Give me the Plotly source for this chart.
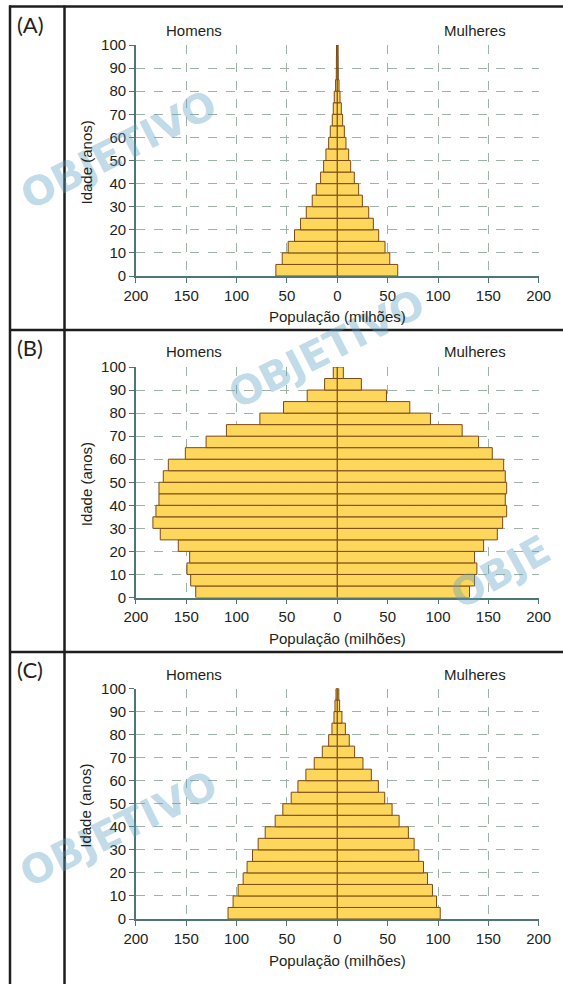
import plotly.graph_objects as go

# Age groups (5-year bands) and their centres on the age axis
faixas = ['0-4', '5-9', '10-14', '15-19', '20-24', '25-29', '30-34', '35-39',
          '40-44', '45-49', '50-54', '55-59', '60-64', '65-69', '70-74',
          '75-79', '80-84', '85-89', '90-94', '95-99', '100+']
idade_centro = [2.5 + 5 * i for i in range(len(faixas))]

# Population by age group, millions
homens_a = [61.0, 54.7, 48.8, 42.5, 36.5, 30.8, 24.9, 20.9, 16.6, 13.6, 11.3,
            8.6, 7.0, 5.0, 4.0, 3.0, 1.7, 1.0, 0.9, 0.8, 0.8]
mulheres_a = [60.0, 52.1, 47.4, 41.1, 35.8, 31.2, 24.9, 21.2, 16.9, 13.3, 11.3,
              8.6, 7.0, 5.3, 4.0, 2.7, 1.7, 1.0, 0.9, 0.8, 0.8]

homens_b = [140.6, 145.6, 149.3, 146.6, 157.9, 175.8, 183.1, 180.1, 177.1, 177.1,
            172.8, 167.8, 150.9, 130.3, 110.1, 76.9, 53.4, 29.9, 12.6, 4.0, 0.8]
mulheres_b = [131.3, 136.3, 138.6, 136.3, 145.3, 158.9, 164.2, 168.2, 166.8, 168.2,
              166.8, 165.2, 153.9, 140.3, 124.0, 92.5, 72.0, 48.8, 23.9, 6.0, 0.8]

homens_c = [108.5, 103.5, 98.5, 93.5, 89.6, 84.2, 78.6, 71.6, 61.7, 54.1, 45.8,
            39.1, 31.2, 22.9, 14.9, 8.6, 5.3, 3.3, 2.3, 1.3, 0.8]
mulheres_c = [102.2, 98.5, 94.5, 89.6, 85.6, 80.9, 76.3, 70.6, 61.4, 54.4, 47.1,
              40.8, 33.8, 25.5, 17.2, 11.9, 8.0, 4.6, 2.3, 1.5, 0.8]

paineis = ['(A)', '(B)', '(C)']
x_ticks = [-200, -150, -100, -50, 0, 50, 100, 150, 200]
x_ticktext = [str(abs(v)) for v in x_ticks]
y_ticks = list(range(0, 101, 10))

W, H = 563, 984
FILL = '#FDD65C'
EDGE = '#7A4A18'
AXIS = '#4E7675'
GRID = '#9DB3A6'
TXT = '#231F20'
FONT = 'Liberation Sans'

# Panel geometry in pixels: plot x extent, and pixel rows of age 0 and age 100
x_left_px, x_right_px = 135.9, 538.7
rows_px = [(276.0, 45.0), (597.5, 367.0), (919.0, 688.5)]
label_y_px = [25, 347, 669]
sex_y_px = [31, 352, 674]
xtitle_y_px = [316, 638, 960]

fig = go.Figure()

dados = [(homens_a, mulheres_a), (homens_b, mulheres_b), (homens_c, mulheres_c)]
for i, (hom, mul) in enumerate(dados):
    sfx = '' if i == 0 else str(i + 1)
    for vals, sign in ((hom, -1), (mul, 1)):
        fig.add_trace(go.Bar(
            x=[sign * v for v in vals], y=idade_centro, orientation='h', width=5,
            marker=dict(color=FILL, line=dict(color=EDGE, width=1)),
            xaxis='x' + sfx, yaxis='y' + sfx, showlegend=False,
            cliponaxis=False, hoverinfo='skip'))

annotations = []
shapes = []
layout_axes = {}

# Faint publisher watermark (centre px, angle, text)
for cx, cy, ang, txt in [(118, 150, -27, 'OBJETIVO'), (326, 349, -27, 'OBJETIVO'),
                         (500, 572, -29, 'OBJE'), (118, 829, -26, 'OBJETIVO')]:
    annotations.append(dict(
        text='<b>' + txt + '</b>', x=cx / W, y=1 - cy / H, xref='paper', yref='paper',
        xanchor='center', yanchor='middle', showarrow=False, textangle=ang,
        font=dict(family='DejaVu Sans', size=40, color='rgba(90,160,195,0.40)')))

for i in range(3):
    sfx = '' if i == 0 else str(i + 1)
    y0_px, y100_px = rows_px[i]
    layout_axes['xaxis' + sfx] = dict(
        domain=[x_left_px / W, x_right_px / W], range=[-200, 200], automargin=False,
        anchor='y' + sfx, tickvals=x_ticks, ticktext=x_ticktext,
        showgrid=True, gridcolor=GRID, griddash='dash', gridwidth=1,
        zeroline=False, showline=True, linecolor=AXIS, linewidth=1.5,
        ticks='outside', ticklen=5, tickcolor=AXIS, tickwidth=1,
        tickfont=dict(family=FONT, size=15, color=TXT), fixedrange=True)
    layout_axes['yaxis' + sfx] = dict(
        domain=[1 - y0_px / H, 1 - y100_px / H], range=[0, 100], automargin=False,
        anchor='x' + sfx, tickvals=y_ticks,
        showgrid=True, gridcolor=GRID, griddash='dash', gridwidth=1,
        zeroline=False, showline=True, linecolor=AXIS, linewidth=1.5,
        ticks='outside', ticklen=5, tickcolor=AXIS, tickwidth=1,
        tickfont=dict(family=FONT, size=15, color=TXT), fixedrange=True)

    annotations += [
        dict(text=paineis[i], x=15 / W, y=1 - label_y_px[i] / H, xref='paper', yref='paper',
             xanchor='left', yanchor='middle', showarrow=False,
             font=dict(family='Lato', size=22, color=TXT)),
        dict(text='Homens', x=194 / W, y=1 - sex_y_px[i] / H, xref='paper', yref='paper',
             xanchor='center', yanchor='middle', showarrow=False,
             font=dict(family=FONT, size=15, color=TXT)),
        dict(text='Mulheres', x=475 / W, y=1 - sex_y_px[i] / H, xref='paper', yref='paper',
             xanchor='center', yanchor='middle', showarrow=False,
             font=dict(family=FONT, size=15, color=TXT)),
        dict(text='População (milhões)', x=337 / W, y=1 - xtitle_y_px[i] / H,
             xref='paper', yref='paper', xanchor='center', yanchor='middle',
             showarrow=False, font=dict(family=FONT, size=15, color=TXT)),
        dict(text='Idade (anos)', x=86 / W, y=1 - ((y0_px + y100_px) / 2 + 2) / H,
             xref='paper', yref='paper', xanchor='center', yanchor='middle',
             textangle=-90, showarrow=False, font=dict(family=FONT, size=15, color=TXT)),
    ]

# Frame: outer left edge, label column divider, top rule and panel separators
BORDER = '#1E1E1E'
for ypx in (6.5, 330, 652):
    shapes.append(dict(type='line', xref='paper', yref='paper',
                       x0=9 / W, x1=1, y0=1 - ypx / H, y1=1 - ypx / H,
                       line=dict(color=BORDER, width=2.5)))
for xpx in (10, 64.5):
    shapes.append(dict(type='line', xref='paper', yref='paper',
                       x0=xpx / W, x1=xpx / W, y0=1 - 5.5 / H, y1=0,
                       line=dict(color=BORDER, width=2.5)))

fig.update_layout(
    template='none',
    width=W, height=H, autosize=False,
    margin=dict(l=0, r=0, t=0, b=0, pad=0, autoexpand=False),
    paper_bgcolor='white', plot_bgcolor='white',
    font=dict(family=FONT, color=TXT),
    barmode='overlay', showlegend=False,
    annotations=annotations, shapes=shapes,
    **layout_axes)

fig.write_html('out.html')
